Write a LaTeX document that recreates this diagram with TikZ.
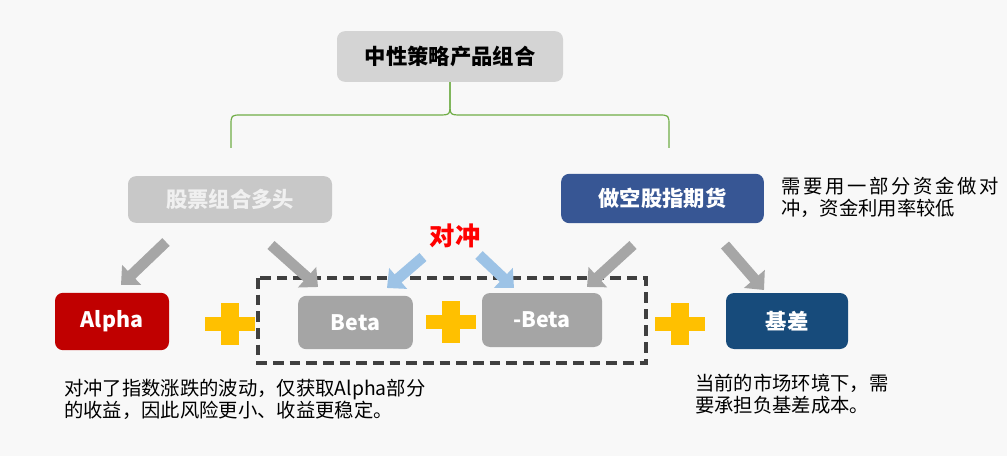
\documentclass[tikz,border=0pt]{standalone}
\usepackage{fontspec}
\setmainfont{Noto Sans CJK SC}
\usetikzlibrary{arrows.meta}
\definecolor{bg}{HTML}{F8F8F8}
\definecolor{titlegray}{HTML}{D4D4D4}
\definecolor{longgray}{HTML}{C8C8C8}
\definecolor{shortblue}{HTML}{375694}
\definecolor{alphared}{HTML}{C00000}
\definecolor{betagray}{HTML}{A5A5A5}
\definecolor{basisblue}{HTML}{174B7B}
\definecolor{plusgold}{HTML}{FFC000}
\definecolor{arrgray}{HTML}{A6A6A6}
\definecolor{arrblue}{HTML}{9DC3E6}
\definecolor{bracegreen}{HTML}{70AD47}
\definecolor{dashgray}{HTML}{404040}
\begin{document}
\begin{tikzpicture}[x=0.75pt,y=-0.75pt,
  box/.style={rounded corners=6pt, inner sep=0pt, text=white, font=\bfseries\fontsize{16}{18}\selectfont},
  note/.style={anchor=west, inner sep=0pt, align=left, font=\fontsize{14.5}{16.5}\selectfont},
  plus/.style={minimum width=38pt, minimum height=32pt, inner sep=0pt, path picture={
    \fill[plusgold] ([yshift=-5.6pt]path picture bounding box.west) rectangle ([yshift=5.6pt]path picture bounding box.east);
    \fill[plusgold] ([xshift=-6.4pt]path picture bounding box.north) rectangle ([xshift=6.4pt]path picture bounding box.south);}},
  garrow/.style={draw=arrgray, line width=8pt, -{Triangle[length=11pt,width=20pt]}},
  barrow/.style={draw=arrblue, line width=8pt, -{Triangle[length=11pt,width=20pt]}}]
\fill[bg] (0,0) rectangle (1007,456);
% top box and brace
\node [box, fill=titlegray, text=black, minimum width=169.5pt, minimum height=38pt] (title) at (450,56.5) {中性策略产品组合};
\draw [bracegreen, line width=0.9pt] (title.south) -- (450,103) .. controls (450,115) .. (438,115) -- (242,115) .. controls (231,115) .. (231,126) -- (231,148);
\draw [bracegreen, line width=0.9pt] (title.south) -- (450,103) .. controls (450,115) .. (462,115) -- (658,115) .. controls (669,115) .. (669,126) -- (669,148);
% second row
\node [box, fill=longgray, text=white!94!black, minimum width=153pt, minimum height=35pt] (long) at (230,199.5) {股票组合多头};
\node [box, fill=shortblue, minimum width=152pt, minimum height=37pt] (short) at (662.5,198.5) {做空股指期货};
\node [note] (costnote) at (781,197) {\makebox[163pt][s]{需\hfill 要\hfill 用\hfill 一\hfill 部\hfill 分\hfill 资\hfill 金\hfill 做\hfill 对}\\冲，资金利用率较低};
\node [text=red, font=\bfseries\fontsize{19}{21}\selectfont, inner sep=0pt] (hedge) at (455,236) {对冲};
% third row
\node [box, fill=alphared, minimum width=85.5pt, minimum height=43pt] (alpha) at (112,321.5) {Alpha};
\node [plus] (p1) at (230,324) {};
\node [box, fill=betagray, minimum width=86pt, minimum height=40pt] (beta) at (355.5,322.5) {Beta};
\node [plus] (p2) at (451,322) {};
\node [box, fill=betagray, minimum width=90pt, minimum height=40.5pt] (nbeta) at (542,320) {-Beta};
\node [plus] (p3) at (680,324) {};
\node [box, fill=basisblue, minimum width=91.5pt, minimum height=42pt] (basis) at (787,321) {基差};
\draw [draw=dashgray, line width=2.6pt, dash pattern=on 8pt off 4.5pt] (258,278) rectangle (646,363);
% arrows
\coordinate (a1s) at (166,242); \coordinate (a1e) at (121,285);
\coordinate (a2s) at (271,245); \coordinate (a2e) at (318,287);
\coordinate (a3s) at (633,245); \coordinate (a3e) at (587,287);
\coordinate (a4s) at (725,245); \coordinate (a4e) at (764,290);
\coordinate (b1s) at (423,257); \coordinate (b1e) at (387,288);
\coordinate (b2s) at (479,255); \coordinate (b2e) at (514,288);
\draw [garrow] (a1s) -- (a1e);
\draw [garrow] (a2s) -- (a2e);
\draw [garrow] (a3s) -- (a3e);
\draw [garrow] (a4s) -- (a4e);
\draw [barrow] (b1s) -- (b1e);
\draw [barrow] (b2s) -- (b2e);
% notes below
\node [note] (alphanote) at (64,399) {对冲了指数涨跌的波动，仅获取Alpha部分\\的收益，因此风险更小、收益更稳定。};
\node [note] (basisnote) at (695,394) {当前的市场环境下，需\\要承担负基差成本。};
\end{tikzpicture}
\end{document}
